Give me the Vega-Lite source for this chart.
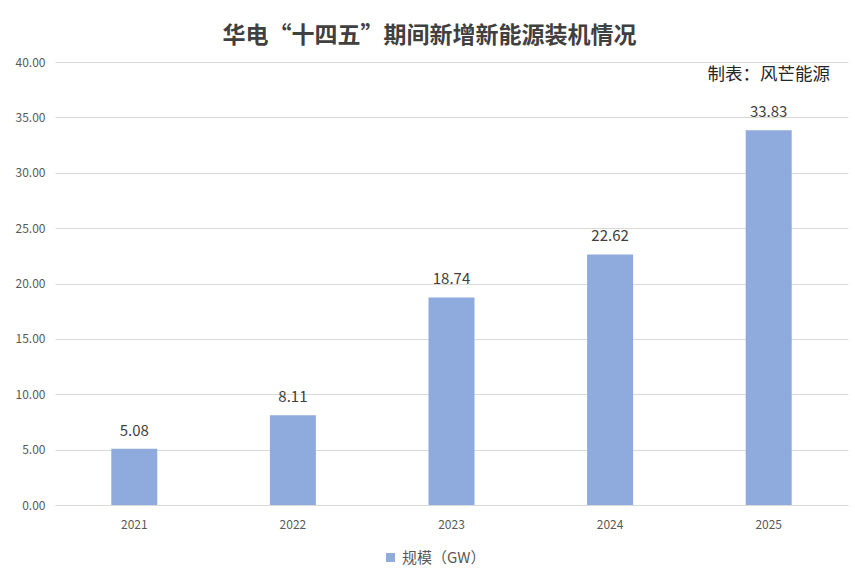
{
  "$schema": "https://vega.github.io/schema/vega-lite/v6.json",
  "autosize": "none",
  "width": 793,
  "height": 443,
  "padding": {"left": 55, "top": 62, "right": 7, "bottom": 70},
  "background": "white",
  "config": {
    "view": {"stroke": null},
    "font": "Noto Sans CJK SC"
  },
  "title": {
    "text": "华电“十四五”期间新增新能源装机情况",
    "fontSize": 23,
    "fontWeight": "bold",
    "color": "#404040",
    "font": "Noto Sans CJK SC",
    "anchor": "middle",
    "dx": -22,
    "offset": 8
  },
  "data": {
    "values": [
      {"year": "2021", "value": 5.08, "series": "规模（GW）"},
      {"year": "2022", "value": 8.11, "series": "规模（GW）"},
      {"year": "2023", "value": 18.74, "series": "规模（GW）"},
      {"year": "2024", "value": 22.62, "series": "规模（GW）"},
      {"year": "2025", "value": 33.83, "series": "规模（GW）"}
    ]
  },
  "encoding": {
    "x": {
      "field": "year",
      "type": "ordinal",
      "scale": {"paddingInner": 0.71, "paddingOuter": 0.355},
      "axis": {
        "title": null,
        "labelAngle": 0,
        "labelFontSize": 12,
        "labelColor": "#595959",
        "labelPadding": 14,
        "ticks": false,
        "domainColor": "#D9D9D9",
        "domainWidth": 1
      }
    },
    "y": {
      "field": "value",
      "type": "quantitative",
      "scale": {"domain": [0, 40], "nice": false},
      "axis": {
        "title": null,
        "values": [0, 5, 10, 15, 20, 25, 30, 35, 40],
        "format": ".2f",
        "labelFontSize": 12,
        "labelColor": "#595959",
        "labelPadding": 10,
        "labelOverlap": false,
        "ticks": false,
        "domain": false,
        "gridColor": "#D9D9D9",
        "gridWidth": 1
      }
    }
  },
  "layer": [
    {
      "mark": {"type": "bar"},
      "encoding": {
        "color": {
          "field": "series",
          "type": "nominal",
          "scale": {"range": ["#8FAADC"]},
          "legend": {
            "title": null,
            "orient": "none",
            "legendX": 328,
            "legendY": 488,
            "symbolType": "square",
            "symbolSize": 80,
            "labelFontSize": 15,
            "labelColor": "#595959"
          }
        }
      }
    },
    {
      "mark": {"type": "text", "dy": -10, "fontSize": 15, "color": "#404040", "baseline": "bottom"},
      "encoding": {
        "text": {"field": "value", "type": "quantitative", "format": ".2f"}
      }
    },
    {
      "data": {"values": [{"year": "2025", "value": 38.8, "note": "制表：风芒能源"}]},
      "mark": {"type": "text", "fontSize": 17.5, "color": "#262626", "baseline": "middle"},
      "encoding": {
        "text": {"field": "note", "type": "nominal"}
      }
    }
  ]
}
